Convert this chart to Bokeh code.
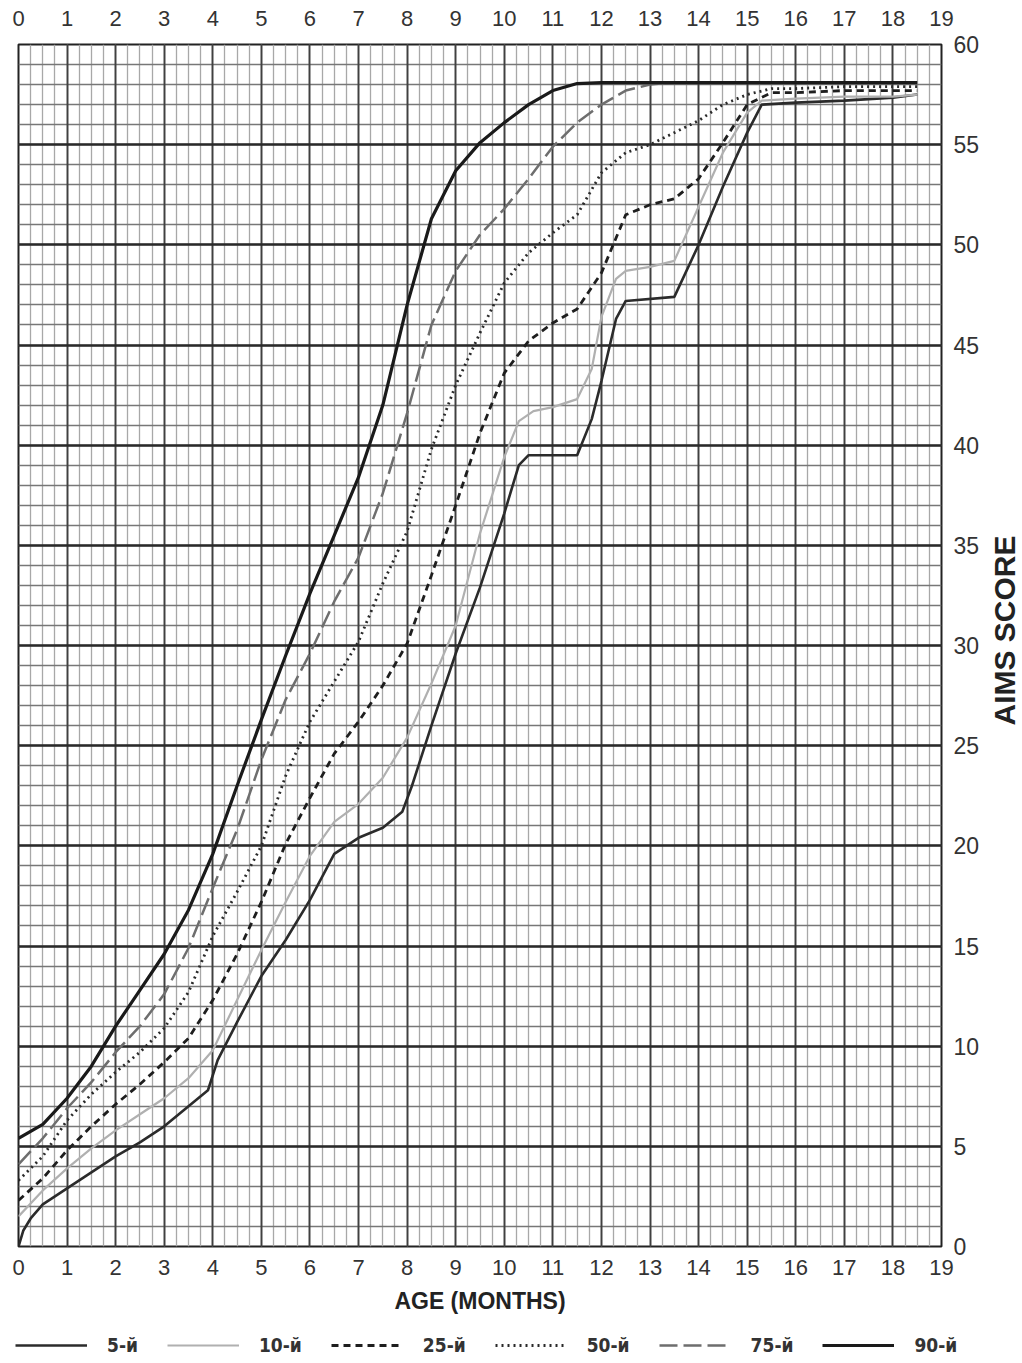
import math
from bokeh.plotting import figure
from bokeh.layouts import column, row
from bokeh.core.properties import value
from bokeh.models import Grid, FixedTicker, LinearAxis, Range1d, Legend, LegendItem
from bokeh.embed import file_html
from bokeh.resources import INLINE

# ---- data ----
month_ticks = list(range(0, 20))
score_ticks = list(range(0, 61, 5))
legend_labels = ["5-й", "10-й", "25-й", "50-й", "75-й", "90-й"]

p5_x = [0, 0.1, 0.25, 0.5, 1, 1.5, 2, 2.5, 3, 3.5, 3.9, 4.1, 4.5, 5, 5.5, 6, 6.5, 7, 7.5, 7.9, 8.1, 8.5,
        9, 9.5, 10, 10.3, 10.5, 11.5, 11.8, 12, 12.3, 12.5, 13.5, 14, 14.5, 15, 15.3, 16, 17, 18, 18.5]
p5_y = [0, 0.8, 1.4, 2.1, 2.9, 3.7, 4.5, 5.2, 6.0, 7.0, 7.8, 9.3, 11.2, 13.5, 15.3, 17.3, 19.6, 20.4, 20.9,
        21.7, 23.0, 26.0, 29.6, 32.9, 36.6, 39.0, 39.5, 39.5, 41.3, 43.2, 46.3, 47.2, 47.4, 50.0, 52.9, 55.6,
        57.0, 57.1, 57.2, 57.35, 57.5]

p10_x = [0, 0.5, 1, 1.5, 2, 2.5, 3, 3.5, 4, 4.5, 5, 5.5, 6, 6.5, 7, 7.5, 8, 8.5, 9, 9.5, 10, 10.3, 10.6,
         11, 11.5, 11.8, 12, 12.3, 12.5, 13, 13.5, 14, 14.5, 15, 15.3, 16, 17, 18, 18.5]
p10_y = [1.5, 2.8, 3.9, 4.9, 5.8, 6.6, 7.4, 8.4, 9.8, 12.3, 14.8, 17.2, 19.5, 21.2, 22.1, 23.4, 25.4, 28.1,
         31.0, 35.6, 39.4, 41.2, 41.7, 41.9, 42.3, 43.8, 46.4, 48.3, 48.7, 48.9, 49.2, 51.9, 54.6, 56.6,
         57.2, 57.3, 57.4, 57.4, 57.5]

p25_x = [0, 0.5, 1, 1.5, 2, 2.5, 3, 3.5, 4, 4.5, 5, 5.5, 6, 6.5, 7, 7.5, 8, 8.5, 9, 9.5, 10, 10.5, 11,
         11.5, 12, 12.5, 13, 13.5, 14, 14.5, 15, 15.5, 16, 17, 18, 18.5]
p25_y = [2.3, 3.4, 4.8, 6.0, 7.1, 8.1, 9.2, 10.4, 12.3, 14.6, 17.2, 20.1, 22.4, 24.6, 26.2, 28.0, 30.1,
         33.5, 37.0, 40.6, 43.6, 45.2, 46.1, 46.8, 48.6, 51.5, 52.0, 52.3, 53.3, 55.1, 57.0, 57.6, 57.6,
         57.7, 57.7, 57.7]

p50_x = [0, 0.5, 1, 1.5, 2, 2.5, 3, 3.5, 4, 4.5, 5, 5.5, 6, 6.5, 7, 7.5, 8, 8.5, 9, 9.5, 10, 10.5, 11,
         11.5, 12, 12.5, 13, 13.5, 14, 14.5, 15, 15.5, 16, 17, 18, 18.5]
p50_y = [3.3, 4.5, 6.3, 7.6, 8.7, 9.7, 10.9, 12.7, 15.5, 17.7, 20.0, 23.5, 26.2, 28.2, 30.2, 33.1, 35.7,
         39.8, 43.0, 45.6, 48.1, 49.6, 50.6, 51.5, 53.6, 54.6, 55.0, 55.6, 56.2, 57.0, 57.5, 57.8, 57.8,
         57.9, 57.9, 57.9]

p75_x = [0, 0.5, 1, 1.5, 2, 2.5, 3, 3.5, 4, 4.5, 5, 5.5, 6, 6.5, 7, 7.5, 8, 8.5, 9, 9.5, 10, 10.5, 11,
         11.5, 12, 12.5, 13, 13.5, 18.5]
p75_y = [4.1, 5.4, 6.9, 8.2, 9.7, 11.0, 12.6, 14.9, 17.9, 20.8, 24.3, 27.3, 29.6, 32.2, 34.4, 37.6, 41.6,
         46.0, 48.7, 50.5, 51.8, 53.3, 54.9, 56.1, 57.0, 57.7, 58.0, 58.1, 58.1]

p90_x = [0, 0.5, 1, 1.5, 2, 2.5, 3, 3.5, 4, 4.5, 5, 5.5, 6, 6.5, 7, 7.5, 8, 8.5, 9, 9.5, 10, 10.5, 11,
         11.5, 12, 13, 14, 15, 16, 17, 18, 18.5]
p90_y = [5.4, 6.1, 7.4, 9.0, 11.0, 12.8, 14.6, 16.8, 19.6, 23.0, 26.3, 29.5, 32.6, 35.5, 38.4, 42.0, 47.0,
         51.3, 53.7, 55.1, 56.1, 57.0, 57.7, 58.05, 58.1, 58.1, 58.1, 58.1, 58.1, 58.1, 58.1, 58.1]

y_title = "AIMS SCORE"
x_title = "AGE (MONTHS)"

FONT = "'Liberation Sans', Arial, sans-serif"
NARROW = "'Liberation Sans Narrow', 'DejaVu Sans Condensed', sans-serif"

series_data = [(p5_x, p5_y), (p10_x, p10_y), (p25_x, p25_y),
               (p50_x, p50_y), (p75_x, p75_y), (p90_x, p90_y)]
styles = [
    dict(line_color="#2b2b2b", line_width=2.6),
    dict(line_color="#b0b0b0", line_width=2.2),
    dict(line_color="#1e1e1e", line_width=2.8, line_dash="7 5"),
    dict(line_color="#2a2a2a", line_width=2.8, line_dash="2 4"),
    dict(line_color="#6e6e6e", line_width=2.5, line_dash="18 6"),
    dict(line_color="#1a1a1a", line_width=3.2),
]


def bare(fig):
    fig.center = []
    fig.outline_line_color = None
    fig.background_fill_color = "white"
    fig.border_fill_color = "white"


# ---------------- main chart ----------------
p = figure(width=982, height=1318, x_range=Range1d(0, 19), y_range=Range1d(0, 60),
           output_backend="svg", toolbar_location=None,
           x_axis_location=None, y_axis_location=None,
           min_border_left=18, min_border_top=44, min_border_right=40, min_border_bottom=72)
bare(p)
p.outline_line_color = "#222222"
p.outline_line_width = 2

quarter_ticks = [i / 4 for i in range(0, 77)]
unit_ticks = list(range(0, 61))

p.add_layout(Grid(dimension=0, ticker=FixedTicker(ticks=quarter_ticks),
                  grid_line_color="#a8a8a8", grid_line_width=1.3))
p.add_layout(Grid(dimension=1, ticker=FixedTicker(ticks=unit_ticks),
                  grid_line_color="#777777", grid_line_width=1.5))
p.add_layout(Grid(dimension=0, ticker=FixedTicker(ticks=month_ticks),
                  grid_line_color="#404040", grid_line_width=1.9))
p.add_layout(Grid(dimension=1, ticker=FixedTicker(ticks=score_ticks),
                  grid_line_color="#2a2a2a", grid_line_width=2.3))


def style_axis(ax, size):
    ax.major_tick_line_color = None
    ax.minor_tick_line_color = None
    ax.axis_line_color = None
    ax.major_label_text_font = FONT
    ax.major_label_text_font_size = size
    ax.major_label_text_color = "#333333"


top = LinearAxis(ticker=FixedTicker(ticks=month_ticks))
style_axis(top, "22px")
top.major_label_standoff = 13
p.add_layout(top, "above")

bottom = LinearAxis(ticker=FixedTicker(ticks=month_ticks), axis_label=x_title)
style_axis(bottom, "22px")
bottom.major_label_standoff = 7
bottom.axis_label_standoff = 10
bottom.axis_label_text_font = FONT
bottom.axis_label_text_font_style = "bold"
bottom.axis_label_text_font_size = "23px"
bottom.axis_label_text_color = "#222222"
p.add_layout(bottom, "below")

right = LinearAxis(ticker=FixedTicker(ticks=score_ticks))
style_axis(right, "23px")
right.major_label_standoff = 6
p.add_layout(right, "right")

for (xs, ys), st in zip(series_data, styles):
    p.line(xs, ys, **st)

# ---------------- rotated y title strip (same vertical frame as the chart) ----------------
tfig = figure(width=40, height=1318, x_range=Range1d(0, 1), y_range=Range1d(0, 60),
              output_backend="svg", toolbar_location=None,
              x_axis_location=None, y_axis_location=None,
              min_border_left=0, min_border_right=0, min_border_top=44, min_border_bottom=72)
bare(tfig)
tfig.text(x=[0.55], y=[30.75], text=[y_title], angle=math.pi / 2,
          text_align="center", text_baseline="middle",
          text_font=value(FONT), text_font_style="bold", text_font_size="30px",
          text_color="#222222")

# ---------------- legend strip ----------------
leg = figure(width=1022, height=42, x_range=Range1d(0, 19), y_range=Range1d(100, 101),
             output_backend="svg", toolbar_location=None,
             x_axis_location=None, y_axis_location=None,
             min_border_left=0, min_border_right=0, min_border_top=0, min_border_bottom=0)
bare(leg)

items = []
for (xs, ys), st, lab in zip(series_data, styles, legend_labels):
    r = leg.line(xs, ys, **st)
    items.append(LegendItem(label=lab, renderers=[r]))

legend = Legend(items=items, orientation="horizontal", location=(15, 4),
                glyph_width=72, glyph_height=20, label_standoff=20, spacing=29,
                padding=0, margin=0, border_line_color=None, background_fill_alpha=0,
                label_text_font=NARROW, label_text_font_style="bold",
                label_text_font_size="19px", label_text_color="#333333")
leg.add_layout(legend, "center")

layout = column(row(p, tfig, spacing=0), leg, spacing=0)
open("out.html", "w").write(file_html(layout, INLINE))
